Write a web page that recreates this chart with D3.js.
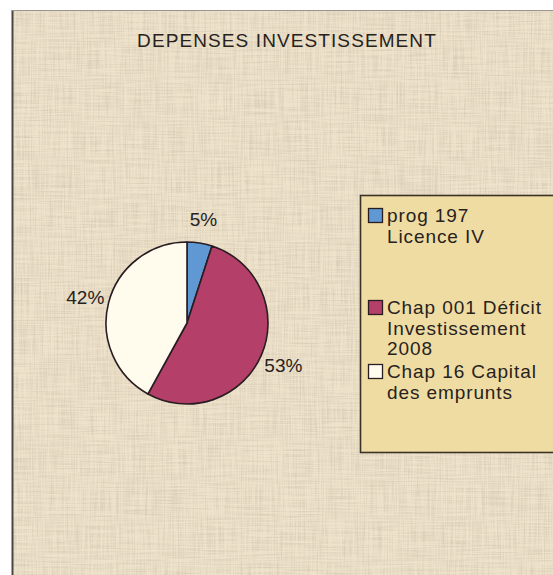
<!DOCTYPE html>
<html>
<head>
<meta charset="utf-8">
<script src="https://cdn.jsdelivr.net/npm/d3@7"></script>
<style>
  body { margin: 0; background: #fff; }
  text { font-family: "Liberation Sans", Arial, sans-serif; fill: #27221c; }
</style>
</head>
<body>
<script>
// chart values
var categories = ["prog 197 Licence IV", "Chap 001 Déficit Investissement 2008", "Chap 16 Capital des emprunts"];
var shares = [5, 53, 42];
var legendLines = [["prog 197", "Licence IV"], ["Chap 001 Déficit", "Investissement", "2008"], ["Chap 16 Capital", "des emprunts"]];
var colors = ["#5f98d2", "#b43f69", "#fffcee"];
var title = "DEPENSES INVESTISSEMENT";

var W = 553, H = 575;
var svg = d3.select("body").append("svg")
    .attr("width", W)
    .attr("height", H);

// linen-like paper texture
var defs = svg.append("defs");
var fv = defs.append("filter").attr("id", "linen")
    .attr("x", 0).attr("y", 0).attr("width", "100%").attr("height", "100%");
fv.append("feTurbulence").attr("type", "fractalNoise")
    .attr("baseFrequency", "0.7 0.025").attr("numOctaves", 2).attr("seed", 3).attr("result", "v");
fv.append("feTurbulence").attr("type", "fractalNoise")
    .attr("baseFrequency", "0.025 0.7").attr("numOctaves", 2).attr("seed", 7).attr("result", "h");
fv.append("feComposite").attr("in", "v").attr("in2", "h")
    .attr("operator", "arithmetic").attr("k2", 0.5).attr("k3", 0.5).attr("result", "n");
fv.append("feColorMatrix").attr("in", "n").attr("type", "matrix")
    .attr("values", "0 0 0 0 0.45  0 0 0 0 0.38  0 0 0 0 0.28  -2 0 0 0 1.2");

svg.append("rect")
    .attr("x", 12).attr("y", 10)
    .attr("width", W).attr("height", H)
    .attr("fill", "#eee2cb");
svg.append("rect")
    .attr("x", 12).attr("y", 10)
    .attr("width", W).attr("height", H)
    .attr("filter", "url(#linen)")
    .attr("opacity", 0.5);

// outer frame
svg.append("line").attr("x1", 12.5).attr("x2", 12.5).attr("y1", 10).attr("y2", H)
    .attr("stroke", "#4a4640").attr("stroke-width", 2);
svg.append("line").attr("x1", 12).attr("x2", W).attr("y1", 10.5).attr("y2", 10.5)
    .attr("stroke", "#9a968e").attr("stroke-width", 1);

// title
svg.append("text")
    .attr("x", 287).attr("y", 47)
    .attr("text-anchor", "middle")
    .style("font-size", "19px")
    .style("letter-spacing", "1.1px")
    .text(title);

// pie
var cx = 187, cy = 323, r = 81;
var pie = d3.pie().sort(null).value(function(d) { return d; });
var arc = d3.arc().innerRadius(0).outerRadius(r);
var labelArc = d3.arc().innerRadius(105).outerRadius(105);

var g = svg.append("g").attr("transform", "translate(" + cx + "," + cy + ")");
var arcs = pie(shares);

g.selectAll("path.slice")
    .data(arcs)
  .enter().append("path")
    .attr("class", "slice")
    .attr("d", arc)
    .attr("fill", function(d, i) { return colors[i]; })
    .attr("stroke", "#2a1d22")
    .attr("stroke-width", 1.6)
    .attr("stroke-linejoin", "round");

g.selectAll("text.pct")
    .data(arcs)
  .enter().append("text")
    .attr("class", "pct")
    .attr("transform", function(d) { return "translate(" + labelArc.centroid(d) + ")"; })
    .attr("text-anchor", "middle")
    .attr("dy", "0.36em")
    .style("font-size", "19px")
    .text(function(d) { return d.data + "%"; });

// legend
var legend = svg.append("g");
legend.append("rect")
    .attr("x", 360.5).attr("y", 195.5)
    .attr("width", 220).attr("height", 257)
    .attr("fill", "#efdca3")
    .attr("stroke", "#3b3226")
    .attr("stroke-width", 1.6);

var rowY = [208, 300, 364];
var item = legend.selectAll("g.item")
    .data(categories)
  .enter().append("g")
    .attr("class", "item")
    .attr("transform", function(d, i) { return "translate(368," + rowY[i] + ")"; });

item.append("rect")
    .attr("x", 0.5).attr("y", 0.5)
    .attr("width", 14).attr("height", 14)
    .attr("fill", function(d, i) { return colors[i]; })
    .attr("stroke", "#2a1d22")
    .attr("stroke-width", 1.3);

item.append("text")
    .attr("x", 19)
    .attr("y", 14)
    .style("font-size", "19px")
    .style("letter-spacing", "0.9px")
    .selectAll("tspan")
    .data(function(d, i) { return legendLines[i]; })
  .enter().append("tspan")
    .attr("x", 19)
    .attr("dy", function(d, j) { return j === 0 ? 0 : 20.5; })
    .text(function(d) { return d; });
</script>
</body>
</html>
